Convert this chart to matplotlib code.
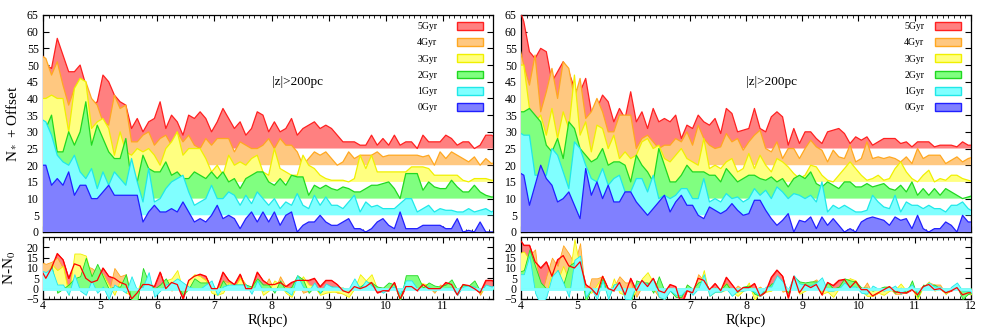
import numpy as np
import matplotlib.pyplot as plt
from matplotlib.patches import Patch
from matplotlib.ticker import MultipleLocator

plt.rcParams['font.family'] = ['Liberation Serif', 'DejaVu Serif']
plt.rcParams['mathtext.fontset'] = 'stix'

# radial bin centres (kpc)
r_left = np.round(np.arange(3.95, 11.96, 0.1), 2)
r_right = np.round(np.arange(3.95, 12.06, 0.1), 2)

ages = ['0Gyr', '1Gyr', '2Gyr', '3Gyr', '4Gyr', '5Gyr']
offsets = [0, 5, 10, 15, 20, 25]
fill_colors = ['#8080ff', '#80ffff', '#80ff80', '#ffff80', '#ffc880', '#ff8080']
line_colors = ['#2020ff', '#20e8e8', '#20d820', '#f0f000', '#ffa820', '#ff2020']

# left panel: star counts per age (no offset)
n0_left = [20, 20, 14, 16, 14, 18, 11, 14, 14, 10,
           10, 12, 14, 11, 11, 11, 11, 11, 3, 6,
           8, 6, 6, 7, 6, 9, 6, 3, 4, 3,
           5, 8, 4, 5, 4, 1, 4, 6, 3, 6,
           3, 6, 2, 5, 6, 0, 2, 3, 3, 5,
           3, 2, 2, 3, 4, 1, 1, 0, 1, 3,
           4, 2, 1, 6, 1, 1, 1, 2, 2, 2,
           2, 1, 1, 4, 0, 0.5, 0, 3, 0, 0,
           0]
n1_left = [29, 28, 24, 18, 16, 15, 18, 13, 11, 14,
           8, 13, 9, 13, 11, 9, 17, 10, 4, 14,
           4, 5, 8, 10, 11, 12, 7, 3, 4, 5,
           9, 5, 5, 7, 6, 3, 6, 3.5, 7, 5,
           3, 5, 2, 4, 3, 6.5, 3, 2, 6, 3,
           5.5, 3, 3, 2, 4, 6, 1, 4, 2.5, 3,
           2, 2, 2, 3.5, 5, 5, 1, 2, 3, 1,
           2, 1.5, 1.5, 1, 1, 2, 1, 1.5, 2, 1,
           2]
n2_left = [24, 21, 25, 14, 14, 20, 16, 20, 29, 16,
           22, 18, 14, 12, 12, 18, 5, 5, 13, 9,
           8, 8, 11, 7, 8, 6, 6, 8, 7, 6,
           8, 6, 8, 5, 6, 3, 6, 7, 8, 8,
           5, 4, 6, 4, 7, 6.5, 6.5, 1, 4, 3,
           4, 3, 2.5, 3.5, 3, 2, 2, 3, 4, 4,
           4.5, 5, 3, 0, 7.5, 7.5, 7.5, 2.5, 5, 3.5,
           3, 3, 5.5, 3.5, 2, 2, 4, 2, 1, 0.5,
           0.5]
n3_left = [25, 25, 26, 25, 25, 15, 28, 31, 30, 16,
           18, 19, 16, 8, 15, 9, 8, 10, 9, 10,
           8, 5, 10, 12, 15, 8, 10, 10, 10, 7,
           3, 5, 2, 8, 5, 6, 5, 7, 8, 3,
           2, 10, 4, 3, 2, 2, 8, 5, 4, 2,
           1, 0.5, 0.5, 0.5, 0, 1, 8, 4, 8, 3,
           3, 3, 3, 3, 3, 4.5, 4.5, 4.5, 4, 2,
           2, 2, 2, 2, 0.5, 0, 1, 1, 1, 0.5,
           0.5]
n4_left = [33, 32, 27, 31, 24, 18, 23, 26, 25, 20,
           18, 13, 12, 21, 17, 18, 7, 7, 9, 10,
           6, 8, 9, 6, 10, 7, 9, 6, 5, 8,
           6, 8, 8, 8, 4, 7, 6, 5, 5, 6,
           8, 5, 8, 6, 6, 4, 0, 2, 4, 3,
           4, 2, 0, 1, 4, 2, 3, 3, 3, 4,
           2.5, 3, 3, 3, 3, 3, 3, 2.5, 3, 0,
           4, 2, 4, 3, 2, 1, 2.5, 0, 2, 0.5,
           1]
n5_left = [30, 25, 24, 33, 28, 23, 23, 25, 19, 13,
           14, 22, 20, 16, 14, 13, 6, 9, 5, 8,
           9, 14, 6, 10, 8, 4, 10, 9, 11, 9,
           5, 8, 12, 9, 6, 8, 4, 6, 11, 10,
           5, 8, 5, 6, 9, 4, 6, 7, 8, 6,
           7, 6, 4, 2, 2, 2, 1, 1, 4, 1,
           3, 1, 4, 1, 2, 2, 0, 4, 2, 2,
           2, 4, 3, 1, 2, 2, 0, 1, 4, 4,
           3]

# right panel
n0_right = [18, 17, 8, 14, 20, 16, 14, 9, 10, 12,
            8, 4, 19, 11, 15, 10, 14, 9, 9, 12,
            12, 9, 7, 5, 7, 9, 11, 6, 9, 11,
            8, 8, 5, 4, 7.5, 6.5, 5.5, 6.5, 8.5, 6.5,
            5, 5.5, 9.5, 9.5, 6.5, 4, 2, 3.5, 5.5, 0,
            3.5, 3, 4.5, 1, 4.5, 2, 4, 2, 0, 1,
            0, 3, 4, 4.5, 4, 3.5, 2, 4.5, 3.5, 4,
            1, 5, 1, 0, 1, 1, 3, 2, 0, 5,
            3, 3]
n1_right = [25, 24, 24, 12, 12, 12, 20, 18, 13, 8,
            22, 20, 15, 11, 10, 14, 9, 11, 12, 7,
            7, 11, 11, 7, 12, 5, 6, 5, 6, 8,
            8, 5, 5, 11, 4, 5, 4, 6.5, 5, 5.5,
            4, 5, 8, 6, 7.5, 5, 8.5, 7, 5, 6.5,
            6, 5, 6, 4, 10, 1, 3, 2, 3, 2,
            1, 1, 1.5, 6, 4, 2.5, 2, 6, 1, 4,
            3, 3, 2, 3, 2, 2, 1, 3, 3, 4,
            2, 1]
n2_right = [26, 26, 27, 25, 23, 16, 14, 18, 12, 23,
            21, 15, 13, 11, 12, 15, 10, 11, 11, 10,
            5, 13, 10, 8, 5, 15, 10, 5, 5, 7,
            10, 8, 8, 8, 7, 7, 5, 9, 7, 5,
            6, 7, 7, 6, 5.5, 6.5, 5, 6, 3.5, 6,
            7, 6, 8, 4.5, 3.5, 5, 4, 3, 5, 5,
            3.5, 3.5, 4.5, 3.5, 4, 4.5, 3, 2.5, 4, 2,
            5, 1, 3, 1, 3, 1, 3, 2, 1, 0,
            0.5, 1]
n3_right = [35, 35, 22, 18, 20, 14, 22, 13, 21, 16,
            32, 14, 18, 9, 17, 16, 10, 14, 7, 9,
            7, 8, 12, 13, 10, 11, 7, 6, 8, 10,
            7, 6, 5, 13, 4, 5, 4, 6, 7, 3,
            4, 8.5, 4, 8, 5, 3, 7, 6, 4.5, 2.5,
            1, 2, 5, 4.5, 2, 0.5, 0, 2, 4, 6,
            4, 2, 0.5, 1, 2, 0.5, 1, 4, 6, 3,
            1, 0, 2, 3.5, 0, 1, 0.5, 2, 2, 1,
            0.5, 0]
n4_right = [37, 30, 24, 33, 16, 22, 29, 20, 31, 29,
            20, 26, 14, 16, 20, 16, 10, 10, 15, 15,
            15, 5, 8, 9, 7, 5, 6, 6, 8, 7,
            10, 6, 12, 8, 6, 5, 5.5, 9.5, 7, 8,
            4.5, 7, 9, 10.5, 5, 4, 7, 2, 5, 5,
            2, 5, 7.5, 5.5, 4.5, 1, 4.5, 2.5, 2, 6,
            1, 2, 7, 2, 2.5, 2, 2.5, 2, 1, 2.5,
            0.5, 5, 2, 3, 3, 3, 0.5, 1.5, 2.5, 1,
            2, 2.5]
n5_right = [43, 38, 29, 27, 30, 29, 20, 23, 26, 23,
            18, 17, 21, 11, 12, 16, 14, 8, 12, 9,
            17, 8, 11, 6, 12, 8, 9, 8, 10, 3,
            7, 6, 10, 8, 7, 9, 4.5, 12, 10.5, 5,
            5.5, 6, 12, 6, 5, 9.5, 11, 9.5, 1, 6,
            1.5, 5, 5, 3, 1.5, 5, 5.5, 6, 4.5, 1.5,
            3.5, 2.5, 3.5, 1, 2, 3, 3, 3, 1.5, 2,
            0.5, 2, 2, 2, 0.5, 1, 1, 1, 0.5, 2,
            1, 1]

counts_left = [n0_left, n1_left, n2_left, n3_left, n4_left, n5_left]
counts_right = [n0_right, n1_right, n2_right, n3_right, n4_right, n5_right]


def style_axes(ax, xmax):
    ax.set_xlim(4, xmax)
    ax.xaxis.set_major_locator(MultipleLocator(1))
    ax.xaxis.set_minor_locator(MultipleLocator(0.1))
    ax.tick_params(which='both', direction='in', top=True, right=True, labelsize=8.5)
    ax.tick_params(which='major', length=4, width=0.8)
    ax.tick_params(which='minor', length=2, width=0.6)
    for s in ax.spines.values():
        s.set_linewidth(0.9)


def draw_top(ax, r, counts, xmax, textpad):
    # back to front: 5Gyr first, 0Gyr last
    for k in range(5, -1, -1):
        level = np.array(counts[k], dtype=float) + offsets[k]
        ax.fill_between(r, offsets[k], level, facecolor=fill_colors[k], edgecolor='none', zorder=2 + 2 * (5 - k))
        ax.plot(r, level, color=line_colors[k], lw=0.9, zorder=3 + 2 * (5 - k))
    style_axes(ax, xmax)
    ax.set_ylim(0, 65)
    ax.yaxis.set_major_locator(MultipleLocator(5))
    ax.tick_params(labelbottom=False, pad=3)
    ax.text(8.45, 45, '|z|>200pc', fontsize=9.5, ha='center', va='center')
    handles = [Patch(facecolor=fill_colors[k], edgecolor=line_colors[k], lw=1, label=ages[k])
               for k in range(5, -1, -1)]
    ax.legend(handles=handles, loc='upper right', bbox_to_anchor=(0.978, 0.968), frameon=False,
              markerfirst=False, fontsize=7, handlelength=2.7, handleheight=0.85,
              handletextpad=textpad, labelspacing=0.72, borderpad=0, borderaxespad=0)


def draw_bottom(ax, r, counts, xmax):
    base = np.array(counts[0], dtype=float)
    for k in range(5, 0, -1):
        diff = np.array(counts[k], dtype=float) - base
        ax.fill_between(r, 0, diff, facecolor=fill_colors[k], edgecolor=line_colors[k], lw=0.6, zorder=2 + (5 - k))
    ax.axhline(0, color='#80ffff', lw=2, zorder=8)
    red_diff = np.array(counts[5], dtype=float) - base
    ax.plot(r, red_diff, color='#ff0000', lw=0.9, zorder=9)
    style_axes(ax, xmax)
    ax.set_ylim(-5, 25)
    ax.set_yticks([-5, 0, 5, 10, 15, 20])
    ax.tick_params(axis='x', pad=0.8)
    ax.tick_params(axis='y', pad=3)
    ax.set_xlabel('R(kpc)', fontsize=10.5)
    ax.xaxis.set_label_coords(0.5, -0.235)


fig = plt.figure(figsize=(9.81, 3.3), dpi=100)
ax_tl = fig.add_axes([0.0438, 0.297, 0.4587, 0.6576])
ax_bl = fig.add_axes([0.0438, 0.094, 0.4587, 0.1879])
ax_tr = fig.add_axes([0.5311, 0.297, 0.4587, 0.6576])
ax_br = fig.add_axes([0.5311, 0.094, 0.4587, 0.1879])

draw_top(ax_tl, r_left, counts_left, 11.875, 2.0)
draw_top(ax_tr, r_right, counts_right, 12, 1.1)
draw_bottom(ax_bl, r_left, counts_left, 11.875)
draw_bottom(ax_br, r_right, counts_right, 12)

ax_tl.set_ylabel('N$_*$ + Offset', fontsize=11)
ax_tl.yaxis.set_label_coords(-0.056, 0.5)
ax_bl.set_ylabel('N-N$_0$', fontsize=11)
ax_bl.yaxis.set_label_coords(-0.056, 0.5)

fig.savefig('out.png', dpi=100)
